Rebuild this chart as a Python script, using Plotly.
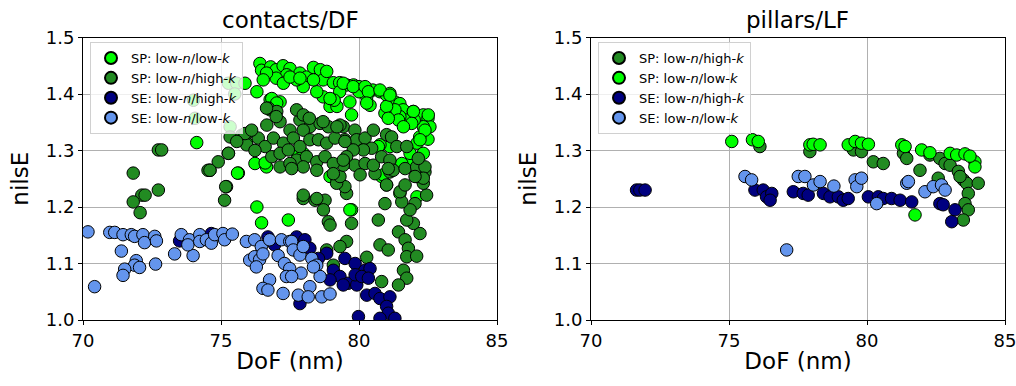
import plotly.graph_objects as go

# ---------------- contacts/DF (left) ----------------
L_lime_x = [76.41, 76.47, 76.8, 77.0, 77.25, 77.5, 77.86, 78.1, 78.35, 78.6, 78.7, 78.83, 79.07, 79.3, 79.55,
            79.8, 80.0, 80.28, 80.5, 80.76, 81.0, 81.12, 81.3, 81.48, 81.6, 81.97, 82.33, 82.5, 82.57, 82.5,
            82.33, 82.2, 82.1, 82.0, 81.7, 81.48, 81.3, 80.94, 81.0, 80.28, 80.4, 80.0, 79.3, 78.95, 79.2,
            79.1, 78.7, 78.47, 78.35, 77.98, 77.74, 77.38, 77.0, 76.65, 76.53, 77.26, 77.5, 77.86, 79.67,
            79.73, 78.95, 76.78, 77.14, 76.78, 76.3, 75.33, 75.27, 75.57, 75.87, 75.5, 74.0, 74.06, 74.12,
            75.63, 76.23, 76.65, 76.3, 76.47, 77.44, 79.73, 80.82, 81.0, 81.48, 82.1, 82.33, 81.85, 81.12,
            80.76, 80.16, 77.74, 77.98, 75.93, 78.95, 79.2, 76.84, 77.02, 76.6, 75.6, 79.43, 79.79, 80.22,
            80.34, 80.76, 81.12, 81.43, 81.97, 82.51, 82.39, 82.21, 81.91, 81.61, 81.06, 80.28, 80.7, 81.85,
            81.55, 80.88, 82.15, 79.67]
L_lime_y = [1.454, 1.442, 1.448, 1.443, 1.45, 1.445, 1.437, 1.43, 1.447, 1.443, 1.425, 1.44, 1.42, 1.42, 1.416,
            1.416, 1.413, 1.407, 1.407, 1.404, 1.398, 1.401, 1.386, 1.383, 1.372, 1.369, 1.363, 1.357, 1.342, 1.32,
            1.342, 1.324, 1.313, 1.354, 1.354, 1.36, 1.372, 1.366, 1.378, 1.395, 1.38, 1.404, 1.404, 1.378, 1.378,
            1.389, 1.395, 1.404, 1.425, 1.413, 1.425, 1.434, 1.428, 1.437, 1.425, 1.419, 1.43, 1.428, 1.386,
            1.363, 1.392, 1.39, 1.386, 1.372, 1.404, 1.342, 1.419, 1.419, 1.419, 1.40, 1.389, 1.357, 1.314,
            1.26, 1.277, 1.271, 1.20, 1.172, 1.177, 1.195, 1.254, 1.239, 1.224, 1.218, 1.295, 1.28, 1.307,
            1.31, 1.319, 1.298, 1.295, 1.313, 1.254, 1.25, 1.392, 1.384, 1.278, 1.26, 1.419, 1.413, 1.413,
            1.404, 1.407, 1.398, 1.354, 1.369, 1.363, 1.336, 1.319, 1.348, 1.342, 1.357, 1.384, 1.307, 1.295,
            1.277, 1.257, 1.257, 1.195]

L_fg_x = [71.82, 72.13, 72.25, 71.82, 72.07, 72.73, 72.73, 72.85, 74.6, 74.9, 75.2, 75.17, 75.13, 74.53,
          77.98, 78.41, 78.77, 78.71, 78.89, 78.95, 79.73, 79.55, 79.31, 78.83, 79.07, 80.7, 80.76, 81.06,
          80.28, 80.94, 81.43, 81.67, 81.79, 81.73, 82.09, 82.21, 81.97, 81.73, 81.61, 81.73, 81.43, 80.82,
          79.55, 79.49, 79.19, 79.31, 82.45, 82.33, 82.09, 82.03, 81.85, 81.55, 81.49, 81.67, 81.0, 80.58,
          81.12, 82.39,
          79.43, 79.49, 79.85, 79.91, 80.22, 80.52, 81.0, 81.18, 81.37, 81.73, 80.46, 80.16, 79.79, 79.55,
          79.85, 80.22, 80.52, 80.82, 81.12, 81.24, 81.06, 81.67, 82.09, 82.39, 82.15, 82.33, 82.03, 80.04,
          79.43,
          76.72, 77.02, 76.66, 77.14, 77.5, 77.86, 78.22, 78.59, 78.89, 79.31, 77.98, 76.05, 75.75, 75.57,
          75.93, 76.35, 76.6, 76.9, 77.26, 77.62, 77.86, 78.22, 78.53, 78.83, 79.13, 79.49, 76.23, 76.84,
          77.14, 77.44, 77.74, 78.1, 78.47, 78.77, 79.07, 79.43, 75.27, 74.6, 77.14, 77.5, 77.98, 78.47,
          79.07, 76.65, 77.0, 77.74, 77.98, 78.2, 78.7, 79.2, 75.87, 76.11, 75.33, 75.57, 75.27, 77.56,
          77.98, 78.47]
L_fg_y = [1.26, 1.221, 1.221, 1.209, 1.19, 1.23, 1.301, 1.301, 1.265, 1.28, 1.236, 1.236, 1.212, 1.265,
          1.215, 1.212, 1.212, 1.195, 1.174, 1.168, 1.171, 1.139, 1.13, 1.124, 1.097, 1.177, 1.133, 1.124,
          1.111, 1.206, 1.156, 1.142, 1.127, 1.112, 1.113, 1.153, 1.171, 1.177, 1.088, 1.074, 1.062, 1.068,
          1.224, 1.236, 1.242, 1.254, 1.221, 1.242, 1.254, 1.206, 1.195, 1.209, 1.227, 1.239, 1.239, 1.259,
          1.262, 1.262,
          1.342, 1.319, 1.336, 1.319, 1.322, 1.336, 1.328, 1.324, 1.307, 1.307, 1.304, 1.301, 1.301, 1.289,
          1.274, 1.277, 1.274, 1.289, 1.283, 1.265, 1.268, 1.268, 1.271, 1.271, 1.286, 1.251, 1.254, 1.257,
          1.274,
          1.375, 1.369, 1.345, 1.351, 1.336, 1.354, 1.342, 1.348, 1.342, 1.345, 1.336, 1.333, 1.327, 1.319,
          1.31, 1.322, 1.307, 1.322, 1.313, 1.322, 1.307, 1.319, 1.319, 1.313, 1.322, 1.316, 1.30, 1.289,
          1.295, 1.301, 1.283, 1.289, 1.28, 1.289, 1.277, 1.283, 1.295, 1.265, 1.271, 1.277, 1.271, 1.265,
          1.259, 1.375, 1.36, 1.372, 1.363, 1.357, 1.351, 1.342, 1.33, 1.336, 1.324, 1.316, 1.295, 1.268,
          1.221, 1.215]

L_navy_x = [73.5, 74.65, 76.7, 76.94, 77.74, 78.04, 78.22, 78.83, 78.53, 79.49, 79.86, 80.22, 80.4, 79.07,
            79.31, 79.61, 79.43, 79.92, 79.86, 80.28, 80.58, 80.76, 81.12, 81.0, 81.06, 79.98, 80.76, 81.3,
            77.86, 78.95, 80.1, 80.34]
L_navy_y = [1.14, 1.153, 1.147, 1.133, 1.147, 1.142, 1.127, 1.118, 1.109, 1.109, 1.10, 1.088, 1.091, 1.088,
            1.077, 1.065, 1.062, 1.062, 1.08, 1.044, 1.047, 1.038, 1.041, 1.024, 1.012, 1.006, 1.003, 1.003,
            1.029, 1.071, 1.077, 1.074]

L_cb_x = [70.18, 70.97, 71.15, 71.45, 71.75, 71.87, 72.17, 72.23, 72.6, 72.66, 71.39, 71.93, 71.87, 72.05,
          71.51, 71.45, 72.63, 70.42, 73.32, 73.99, 73.56, 73.86, 73.8, 74.23, 74.23, 74.47, 74.65, 74.77,
          75.07, 75.13, 75.41, 75.92, 76.22, 76.46, 76.76, 77.19, 77.49, 76.04, 76.22, 76.4, 76.28, 76.52,
          77.07, 77.3, 77.49, 76.76, 76.52, 76.7, 77.25, 77.37, 77.56, 77.62, 77.86, 78.29, 78.47, 77.9,
          78.59, 78.22, 77.8, 78.16, 78.65, 78.95, 78.35, 77.56, 77.98]
L_cb_y = [1.156, 1.155, 1.155, 1.151, 1.151, 1.148, 1.151, 1.137, 1.148, 1.14, 1.122, 1.105, 1.097, 1.093,
          1.09, 1.079, 1.099, 1.059, 1.117, 1.114, 1.151, 1.142, 1.133, 1.151, 1.139, 1.142, 1.136, 1.151,
          1.153, 1.142, 1.152, 1.139, 1.142, 1.13, 1.142, 1.142, 1.139, 1.106, 1.112, 1.107, 1.094, 1.117,
          1.114, 1.10, 1.091, 1.071, 1.056, 1.053, 1.047, 1.077, 1.139, 1.124, 1.115, 1.109, 1.097, 1.083,
          1.077, 1.059, 1.044, 1.041, 1.041, 1.046, 1.094, 1.077, 1.13]

# ---------------- pillars/LF (right) ----------------
R_fg_x = [76.12, 77.93, 79.51, 79.8, 80.23, 80.59, 81.32, 81.44, 81.92, 82.28, 82.64, 82.83, 83.01, 83.31,
          83.49, 83.61, 83.67, 84.03, 82.58, 83.55, 83.67, 83.49, 83.37]
R_fg_y = [1.307, 1.298, 1.301, 1.298, 1.28, 1.277, 1.295, 1.286, 1.265, 1.292, 1.286, 1.277, 1.274, 1.263,
          1.248, 1.242, 1.224, 1.242, 1.251, 1.206, 1.195, 1.177, 1.254]

R_lime_x = [75.1, 75.85, 76.06, 77.93, 78.05, 78.3, 79.32, 79.57, 79.8, 80.05, 81.26, 81.38, 81.98, 82.28,
            83.01, 83.25, 83.55, 83.91, 83.91, 81.74, 83.73]
R_lime_y = [1.316, 1.319, 1.316, 1.31, 1.311, 1.31, 1.31, 1.316, 1.313, 1.311, 1.31, 1.307, 1.301, 1.296,
            1.295, 1.292, 1.294, 1.28, 1.271, 1.186, 1.29]

R_navy_x = [71.65, 71.77, 71.96, 75.94, 76.24, 76.36, 76.55, 76.49, 77.33, 77.69, 77.87, 78.42, 78.66, 78.96,
            79.14, 79.32, 80.05, 80.41, 80.59, 80.89, 81.2, 81.62, 82.64, 82.76, 83.19, 83.07]
R_navy_y = [1.23, 1.23, 1.23, 1.23, 1.23, 1.218, 1.224, 1.212, 1.227, 1.224, 1.221, 1.224, 1.218, 1.218,
            1.212, 1.215, 1.218, 1.218, 1.215, 1.215, 1.212, 1.209, 1.206, 1.204, 1.195, 1.174]

R_cb_x = [75.58, 75.82, 77.51, 77.75, 78.06, 78.3, 78.8, 79.57, 79.63, 79.8, 80.35, 81.44, 81.5, 82.1,
          82.4, 82.7, 82.83, 77.09]
R_cb_y = [1.254, 1.248, 1.254, 1.254, 1.239, 1.245, 1.237, 1.248, 1.236, 1.251, 1.206, 1.242, 1.245, 1.227,
          1.236, 1.239, 1.23, 1.124]

LIME, FG, NAVY, CB = "#00ff00", "#228b22", "#000080", "#6495ed"
LBL_LL = "SP: low-<i>n</i>/low-<i>k</i>"
LBL_LH = "SP: low-<i>n</i>/high-<i>k</i>"
SE_LH = "SE: low-<i>n</i>/high-<i>k</i>"
SE_LL = "SE: low-<i>n</i>/low-<i>k</i>"

FONT = "DejaVu Sans"


def sc(x, y, color, name, xa, ya, legend):
    return go.Scatter(x=x, y=y, mode="markers", name=name, xaxis=xa, yaxis=ya, legend=legend,
                      marker=dict(color=color, size=12.5, line=dict(color="black", width=1)))


fig = go.Figure()
fig.add_trace(sc(L_lime_x, L_lime_y, LIME, LBL_LL, "x", "y", "legend"))
fig.add_trace(sc(L_fg_x, L_fg_y, FG, LBL_LH, "x", "y", "legend"))
fig.add_trace(sc(L_navy_x, L_navy_y, NAVY, SE_LH, "x", "y", "legend"))
fig.add_trace(sc(L_cb_x, L_cb_y, CB, SE_LL, "x", "y", "legend"))
fig.add_trace(sc(R_fg_x, R_fg_y, FG, LBL_LH, "x2", "y2", "legend2"))
fig.add_trace(sc(R_lime_x, R_lime_y, LIME, LBL_LL, "x2", "y2", "legend2"))
fig.add_trace(sc(R_navy_x, R_navy_y, NAVY, SE_LH, "x2", "y2", "legend2"))
fig.add_trace(sc(R_cb_x, R_cb_y, CB, SE_LL, "x2", "y2", "legend2"))

H = 386
W = 1016
ydom = [1 - 320 / H, 1 - 37.5 / H]
xd1 = [83 / W, 497 / W]
xd2 = [591 / W, 1005 / W]

axcommon = dict(showline=True, linecolor="black", linewidth=1, mirror=True, ticks="outside",
                ticklen=4, tickcolor="black", showgrid=True, gridcolor="#b0b0b0", gridwidth=1,
                zeroline=False, automargin=False, ticklabeloverflow="allow",
                tickfont=dict(family=FONT, size=18, color="black"))
xcommon = dict(axcommon, range=[70, 85], tickvals=[70, 75, 80, 85],
               title=dict(text="DoF (nm)", font=dict(family=FONT, size=23, color="black"), standoff=3))
ycommon = dict(axcommon, range=[1.0, 1.5], tickvals=[1.0, 1.1, 1.2, 1.3, 1.4, 1.5], tickformat=".1f",
               title=dict(text="nilsE", font=dict(family=FONT, size=23, color="black"), standoff=10))

legcommon = dict(bgcolor="rgba(255,255,255,0.8)", bordercolor="#d0d0d0", borderwidth=1,
                 font=dict(family=FONT, size=13, color="black"), xanchor="left", yanchor="top",
                 tracegroupgap=0, itemsizing="constant")

fig.update_layout(
    width=W, height=H, margin=dict(l=0, r=0, t=0, b=0, autoexpand=False),
    paper_bgcolor="white", plot_bgcolor="white",
    font=dict(family=FONT, color="black"),
    xaxis=dict(xcommon, domain=xd1, anchor="y"),
    yaxis=dict(ycommon, domain=ydom, anchor="x"),
    xaxis2=dict(xcommon, domain=xd2, anchor="y2"),
    yaxis2=dict(ycommon, domain=ydom, anchor="x2"),
    legend=dict(legcommon, x=90 / W, y=1 - 42 / H),
    legend2=dict(legcommon, x=598 / W, y=1 - 42 / H),
    annotations=[
        dict(text="contacts/DF", x=(xd1[0] + xd1[1]) / 2, y=1 - 20 / H, xref="paper", yref="paper",
             showarrow=False, font=dict(family=FONT, size=23, color="black"),
             xanchor="center", yanchor="middle"),
        dict(text="pillars/LF", x=(xd2[0] + xd2[1]) / 2, y=1 - 20 / H, xref="paper", yref="paper",
             showarrow=False, font=dict(family=FONT, size=23, color="black"),
             xanchor="center", yanchor="middle"),
    ],
)

fig.write_html("out.html")
